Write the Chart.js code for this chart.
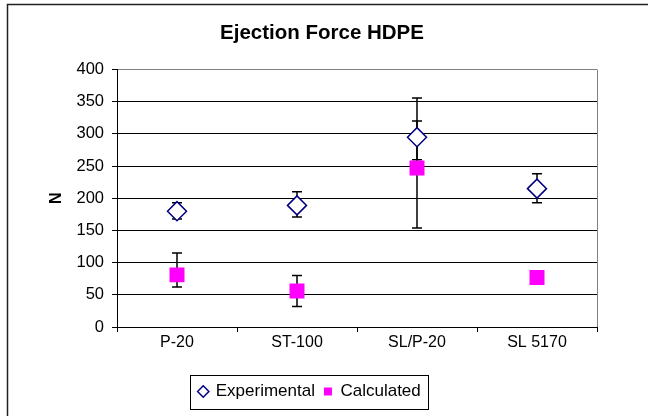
<!DOCTYPE html>
<html>
<head>
<meta charset="UTF-8">
<title>Ejection Force HDPE</title>
<script src="https://cdn.jsdelivr.net/npm/chart.js@4.4.1/dist/chart.umd.min.js"></script>
<style>
  html, body { margin: 0; padding: 0; background: #fff; }
  #wrap { width: 648px; height: 416px; position: relative; }
</style>
</head>
<body>
<div id="wrap"><canvas id="canvas"></canvas></div>
<script>
// data
const categories = ['P-20', 'ST-100', 'SL/P-20', 'SL 5170'];
const expValues = [180, 189, 295, 215];
const expErrPlus = [13, 21, 61, 23];
const expErrMinus = [12, 18, 35, 22];
const calcValues = [81, 56, 247, 77];
const calcErrPlus = [34, 24, 73, 0];
const calcErrMinus = [19, 24, 93, 0];
const yTicks = [0, 50, 100, 150, 200, 250, 300, 350, 400];

const FONT = 'Arial, "Liberation Sans", sans-serif';

// error bars drawn under the markers
const errorBars = {
  id: 'errorBars',
  beforeDatasetsDraw(chart) {
    const ctx = chart.ctx;
    const x = chart.scales.x, y = chart.scales.y;
    const sets = [[expValues, expErrPlus, expErrMinus], [calcValues, calcErrPlus, calcErrMinus]];
    ctx.save();
    ctx.strokeStyle = '#000';
    ctx.lineWidth = 1.5;
    sets.forEach(([vals, plus, minus]) => {
      vals.forEach((v, i) => {
        if (!plus[i] && !minus[i]) return;
        const px = x.getPixelForValue(i);
        const top = y.getPixelForValue(v + plus[i]);
        const bot = y.getPixelForValue(v - minus[i]);
        ctx.beginPath();
        ctx.moveTo(px, top); ctx.lineTo(px, bot);
        ctx.moveTo(px - 5, top); ctx.lineTo(px + 5, top);
        ctx.moveTo(px - 5, bot); ctx.lineTo(px + 5, bot);
        ctx.stroke();
      });
    });
    ctx.restore();
  }
};

// legend sits a bit left of the plot centre in the original
const legendShift = {
  id: 'legendShift',
  afterLayout(chart) {
    chart.legend.left -= 12;
    chart.legend.right -= 12;
  }
};

// frame, plot border and the legend box
const decor = {
  id: 'decor',
  afterDraw(chart) {
    const ctx = chart.ctx;
    const a = chart.chartArea;
    ctx.save();
    // outer frame (cropped at right and bottom)
    ctx.strokeStyle = '#222';
    ctx.lineWidth = 1.5;
    ctx.beginPath();
    ctx.moveTo(7.5, 416); ctx.lineTo(7.5, 4.5); ctx.lineTo(648, 4.5);
    ctx.stroke();
    // plot right border
    ctx.strokeStyle = '#808080';
    ctx.lineWidth = 1;
    ctx.beginPath();
    ctx.moveTo(Math.round(a.right) + 0.5, a.top);
    ctx.lineTo(Math.round(a.right) + 0.5, a.bottom);
    ctx.stroke();
    // legend box
    const hb = chart.legend.legendHitBoxes;
    if (hb && hb.length) {
      let l = Infinity, r = -Infinity, t = Infinity, b = -Infinity;
      hb.forEach(h => {
        l = Math.min(l, h.left); r = Math.max(r, h.left + h.width);
        t = Math.min(t, h.top); b = Math.max(b, h.top + h.height);
      });
      ctx.strokeStyle = '#000';
      ctx.lineWidth = 1;
      ctx.strokeRect(Math.round(l - 9) + 0.5, Math.round(t - 8) + 0.5, Math.round(r - l + 16), Math.round(b - t + 17));
    }
    ctx.restore();
  }
};

new Chart(document.getElementById('canvas'), {
  type: 'line',
  data: {
    labels: categories,
    datasets: [{
      label: 'Experimental',
      data: expValues,
      showLine: false,
      pointStyle: 'rectRot',
      pointRadius: 9.5,
      pointBorderWidth: 1.5,
      backgroundColor: '#ffffff',
      borderColor: '#000080',
      borderWidth: 1.5
    }, {
      label: 'Calculated',
      data: calcValues,
      showLine: false,
      pointStyle: 'rect',
      pointRadius: 10.6,
      pointBorderWidth: 0,
      backgroundColor: '#ff00ff',
      borderColor: '#ff00ff',
      borderWidth: 0
    }]
  },
  options: {
    responsive: true,
    maintainAspectRatio: false,
    animation: false,
    events: [],
    layout: { padding: { left: 47, right: 51, top: 0, bottom: 6 } },
    plugins: {
      title: {
        display: true,
        text: 'Ejection Force HDPE',
        color: '#000',
        font: { family: FONT, size: 20.5, weight: 'bold' },
        padding: { top: 21, bottom: 24 }
      },
      legend: {
        position: 'bottom',
        labels: {
          color: '#000',
          font: { family: FONT, size: 17 },
          usePointStyle: true,
          boxWidth: 8,
          boxHeight: 8,
          padding: 9
        }
      },
      tooltip: { enabled: false }
    },
    scales: {
      x: {
        type: 'category',
        offset: true,
        grid: { display: true, drawOnChartArea: false, offset: true, color: '#000', tickLength: 5, tickColor: '#000' },
        border: { display: true, color: '#000', width: 1 },
        ticks: { color: '#000', font: { family: FONT, size: 16 }, padding: 1, maxRotation: 0 },
        afterFit(scale) { scale.height = 47; }
      },
      y: {
        min: 0,
        max: 400,
        afterBuildTicks(scale) { scale.ticks = yTicks.map(v => ({ value: v })); },
        grid: {
          color: ctx => (ctx.tick && ctx.tick.value === 400 ? '#808080' : '#000'),
          tickColor: '#000',
          tickLength: 5,
          lineWidth: 1
        },
        border: { display: true, color: '#000', width: 1 },
        ticks: { color: '#000', font: { family: FONT, size: 16.5 }, padding: 8 },
        title: {
          display: true,
          text: 'N',
          color: '#000',
          font: { family: FONT, size: 16, weight: 'bold' },
          padding: 0
        },
        afterFit(scale) { scale.width = 117 - 47; }
      }
    }
  },
  plugins: [errorBars, legendShift, decor]
});
</script>
</body>
</html>
